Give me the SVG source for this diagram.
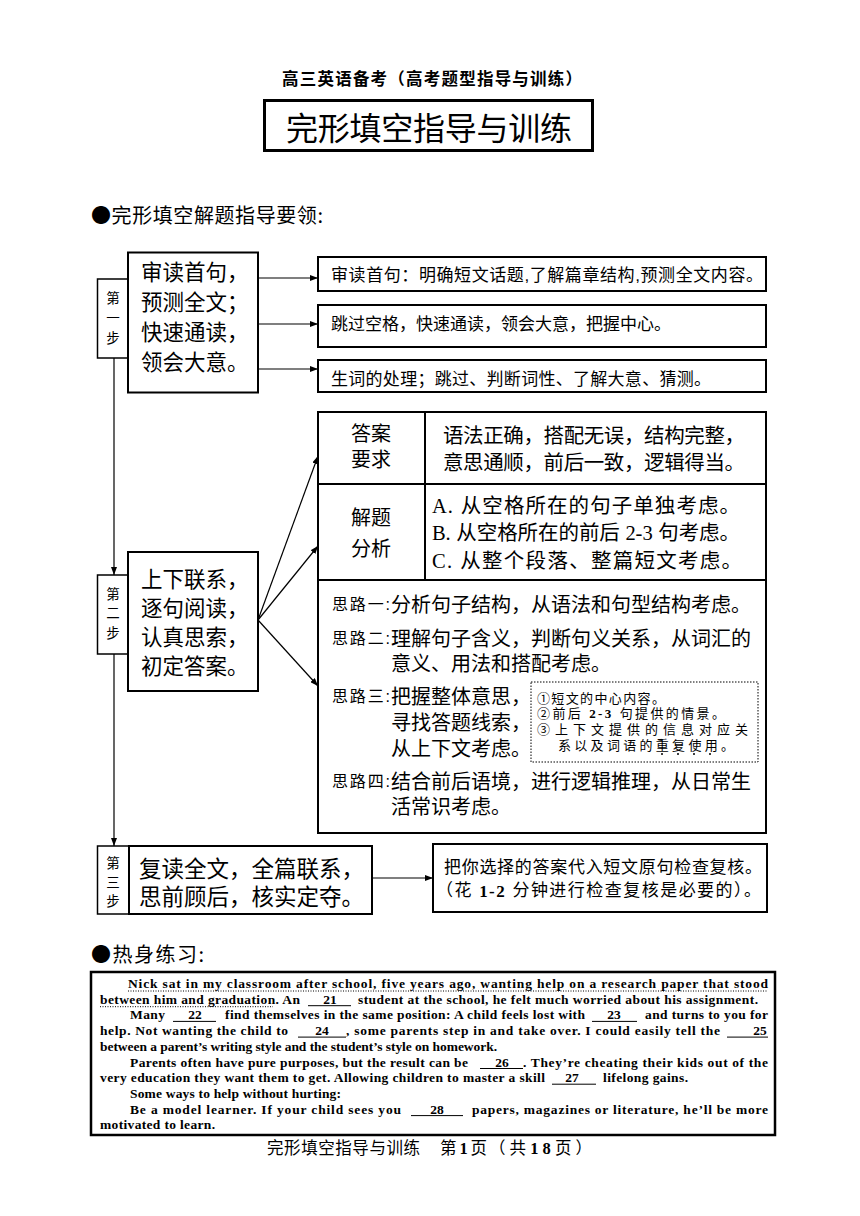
<svg xmlns="http://www.w3.org/2000/svg" width="860" height="1216" viewBox="0 0 860 1216">
<defs>
<marker id="ah" viewBox="0 0 8 6" refX="8" refY="3" markerWidth="8" markerHeight="6" markerUnits="userSpaceOnUse" orient="auto"><path d="M0,0 L8,3 L0,6 z" fill="#000"/></marker>
<style>
text{dominant-baseline:central}
.cj{font-family:"Liberation Sans","Noto Sans CJK SC","Noto Sans CJK JP",sans-serif;fill:#000;transform:translate(0,0.09em)}
.cjn{font-family:"Noto Sans CJK SC","Noto Sans CJK JP",sans-serif;fill:#000}
.lat{font-family:"Liberation Serif",serif;font-weight:bold}
.b2{fill:#fff;stroke:#000;stroke-width:2}
.b15{fill:#fff;stroke:#000;stroke-width:1.5}
.conn line{stroke:#000;stroke-width:1.2;marker-end:url(#ah)}
.step{font-size:21.5px}
.lbl{font-size:13.5px;text-anchor:middle}
.tip{font-size:17px}
.tb{font-size:20.5px}
.hd{font-size:20px;text-anchor:middle}
.sl{font-size:16px}
.st{font-size:20px}
.hint{font-size:13px}
.ps{font-family:"Liberation Serif",serif;font-weight:bold;font-size:13.5px;dominant-baseline:auto;fill:#000}
.num{text-anchor:middle}
.bl{stroke:#000;stroke-width:1}
.dot{stroke:#000;stroke-width:1;stroke-dasharray:1 1.5}
</style>
</defs>
<rect width="860" height="1216" fill="#fff"/>

<g id="header"><text class="cj" x="282" y="78" font-size="16.5" font-weight="bold" textLength="300" lengthAdjust="spacing">高三英语备考（高考题型指导与训练）</text></g>

<g id="title">
<rect x="264.5" y="100.5" width="328" height="50" fill="#fff" stroke="#000" stroke-width="3"/>
<text class="cj" x="286" y="126" font-size="32" textLength="286" lengthAdjust="spacing">完形填空指导与训练</text>
</g>

<g id="section1"><text class="cjn" x="91" y="214" font-size="20" textLength="232" lengthAdjust="spacing">●完形填空解题指导要领:</text></g>

<g id="step1-label">
<rect class="b15" x="97.5" y="279" width="31" height="79"/>
<text class="cj lbl" x="113" y="297">第</text>
<text class="cj lbl" x="113" y="317">一</text>
<text class="cj lbl" x="113" y="337">步</text>
</g>
<g id="step1">
<rect class="b2" x="128" y="252.5" width="130" height="140"/>
<text class="cj step" x="141" y="271">审读首句，</text>
<text class="cj step" x="141" y="301">预测全文；</text>
<text class="cj step" x="141" y="331">快速通读，</text>
<text class="cj step" x="141" y="361">领会大意。</text>
</g>

<g id="tip1">
<rect class="b2" x="318" y="257" width="448" height="34"/>
<text class="cj tip" x="331" y="274" textLength="432" lengthAdjust="spacing">审读首句：明确短文话题,了解篇章结构,预测全文内容。</text>
</g>
<g id="tip2">
<rect class="b2" x="318" y="305" width="448" height="42"/>
<text class="cj tip" x="331" y="323" textLength="340" lengthAdjust="spacing">跳过空格，快速通读，领会大意，把握中心。</text>
</g>
<g id="tip3">
<rect class="b2" x="318" y="360" width="448" height="32"/>
<text class="cj tip" x="331" y="378" textLength="380" lengthAdjust="spacing">生词的处理；跳过、判断词性、了解大意、猜测。</text>
</g>

<g id="analysis-table">
<rect class="b2" x="318" y="412" width="448" height="421"/>
<line x1="318" y1="484" x2="766" y2="484" stroke="#000" stroke-width="2"/>
<line x1="318" y1="580" x2="766" y2="580" stroke="#000" stroke-width="2"/>
<line x1="425" y1="412" x2="425" y2="580" stroke="#000" stroke-width="2"/>
</g>
<g id="answer-req">
<text class="cj hd" x="371" y="432">答案</text>
<text class="cj hd" x="371" y="458">要求</text>
<text class="cj tb" x="443" y="434" textLength="302" lengthAdjust="spacing">语法正确，搭配无误，结构完整，</text>
<text class="cj tb" x="443" y="461" textLength="302" lengthAdjust="spacing">意思通顺，前后一致，逻辑得当。</text>
</g>
<g id="solve-analysis">
<text class="cj hd" x="371" y="516">解题</text>
<text class="cj hd" x="371" y="547">分析</text>
<text class="cj tb" x="432" y="504" textLength="308" lengthAdjust="spacing"><tspan font-family="Liberation Serif">A.</tspan> 从空格所在的句子单独考虑。</text>
<text class="cj tb" x="432" y="531" textLength="308" lengthAdjust="spacing"><tspan font-family="Liberation Serif">B.</tspan> 从空格所在的前后 <tspan font-family="Liberation Serif">2-3</tspan> 句考虑。</text>
<text class="cj tb" x="432" y="559" textLength="310" lengthAdjust="spacing"><tspan font-family="Liberation Serif">C.</tspan> 从整个段落、整篇短文考虑。</text>
</g>
<g id="thinking">
<text class="cj sl" x="332" y="603" textLength="58" lengthAdjust="spacing">思路一:</text>
<text class="cj st" x="391" y="603" textLength="360" lengthAdjust="spacing">分析句子结构，从语法和句型结构考虑。</text>
<text class="cj sl" x="332" y="637" textLength="58" lengthAdjust="spacing">思路二:</text>
<text class="cj st" x="391" y="637" textLength="360" lengthAdjust="spacing">理解句子含义，判断句义关系，从词汇的</text>
<text class="cj st" x="391" y="662" textLength="220" lengthAdjust="spacing">意义、用法和搭配考虑。</text>
<text class="cj sl" x="332" y="695" textLength="58" lengthAdjust="spacing">思路三:</text>
<text class="cj st" x="391" y="695" textLength="140" lengthAdjust="spacing">把握整体意思，</text>
<text class="cj st" x="391" y="721" textLength="140" lengthAdjust="spacing">寻找答题线索，</text>
<text class="cj st" x="391" y="747" textLength="140" lengthAdjust="spacing">从上下文考虑。</text>
<text class="cj sl" x="332" y="780" textLength="58" lengthAdjust="spacing">思路四:</text>
<text class="cj st" x="391" y="780" textLength="360" lengthAdjust="spacing">结合前后语境，进行逻辑推理，从日常生</text>
<text class="cj st" x="391" y="805" textLength="120" lengthAdjust="spacing">活常识考虑。</text>
</g>
<g id="hint">
<rect x="531" y="682" width="227" height="80" fill="none" stroke="#000" stroke-width="1" stroke-dasharray="1.5 1.5"/>
<text class="cj hint" x="537" y="697" textLength="128" lengthAdjust="spacing">①短文的中心内容。</text>
<text class="cj hint" x="537" y="712" textLength="188" lengthAdjust="spacing">②前后 <tspan class="lat">2-3</tspan> 句提供的情景。</text>
<text class="cj hint" x="537" y="728" textLength="211" lengthAdjust="spacing">③上下文提供的信息对应关</text>
<text class="cj hint" x="558" y="744" textLength="176" lengthAdjust="spacing">系以及词语的重复使用。</text>
<circle cx="662" cy="754" r="1" fill="#000"/>
<circle cx="678" cy="754" r="1" fill="#000"/>
<circle cx="694" cy="754" r="1" fill="#000"/>
<circle cx="710" cy="754" r="1" fill="#000"/>
</g>

<g id="step2-label">
<rect class="b15" x="97.5" y="575" width="31" height="79"/>
<text class="cj lbl" x="113" y="593">第</text>
<text class="cj lbl" x="113" y="612">二</text>
<text class="cj lbl" x="113" y="632">步</text>
</g>
<g id="step2">
<rect class="b2" x="128" y="552" width="130" height="139"/>
<text class="cj step" x="141" y="578">上下联系，</text>
<text class="cj step" x="141" y="607">逐句阅读，</text>
<text class="cj step" x="141" y="636">认真思索，</text>
<text class="cj step" x="141" y="665">初定答案。</text>
</g>

<g id="step3-label">
<rect class="b15" x="97.5" y="846" width="31.5" height="68"/>
<text class="cj lbl" x="113" y="862">第</text>
<text class="cj lbl" x="113" y="881">三</text>
<text class="cj lbl" x="113" y="900">步</text>
</g>
<g id="step3">
<rect class="b2" x="129" y="846" width="243" height="68"/>
<text class="cj" x="139" y="867" font-size="22.5">复读全文，全篇联系，</text>
<text class="cj" x="139" y="895" font-size="22.5">思前顾后，核实定夺。</text>
</g>
<g id="step3-check">
<rect class="b2" x="433" y="844" width="334" height="68"/>
<text class="cj" x="444" y="866" font-size="17" textLength="318" lengthAdjust="spacing">把你选择的答案代入短文原句检查复核。</text>
<text class="cj" x="436" y="889" font-size="17" textLength="325" lengthAdjust="spacing">（花 <tspan class="lat">1-2</tspan> 分钟进行检查复核是必要的）。</text>
</g>

<g id="section2"><text class="cjn" x="91" y="953" font-size="20" textLength="113" lengthAdjust="spacing">●热身练习:</text></g>

<g id="passage">
<rect x="91" y="972" width="684" height="163" fill="#fff" stroke="#000" stroke-width="2.5"/>
<line class="dot" x1="128" y1="991" x2="768" y2="991"/>
<text class="ps" x="128" y="988" textLength="640" lengthAdjust="spacing">Nick sat in my classroom after school, five years ago, wanting help on a research paper that stood</text>
<line class="dot" x1="100" y1="1006.7" x2="273" y2="1006.7"/>
<text class="ps" x="100" y="1003.7" textLength="200" lengthAdjust="spacing">between him and graduation. An</text>
<line class="bl" x1="308" y1="1005.7" x2="351" y2="1005.7"/>
<text class="ps num" x="330" y="1003.7">21</text>
<text class="ps" x="358" y="1003.7" textLength="400" lengthAdjust="spacing">student at the school, he felt much worried about his assignment.</text>

<text class="ps" x="130" y="1019.4" textLength="35" lengthAdjust="spacing">Many</text>
<line class="bl" x1="173" y1="1021.4" x2="216" y2="1021.4"/>
<text class="ps num" x="195" y="1019.4">22</text>
<text class="ps" x="225" y="1019.4" textLength="360" lengthAdjust="spacing">find themselves in the same position: A child feels lost with</text>
<line class="bl" x1="592" y1="1021.4" x2="637" y2="1021.4"/>
<text class="ps num" x="614" y="1019.4">23</text>
<text class="ps" x="645" y="1019.4" textLength="123" lengthAdjust="spacing">and turns to you for</text>

<text class="ps" x="100" y="1035.1" textLength="188" lengthAdjust="spacing">help. Not wanting the child to</text>
<line class="bl" x1="298" y1="1037.1" x2="346" y2="1037.1"/>
<text class="ps num" x="322" y="1035.1">24</text>
<text class="ps" x="346" y="1035.1" textLength="374" lengthAdjust="spacing">, some parents step in and take over. I could easily tell the</text>
<line class="bl" x1="727" y1="1037.1" x2="768" y2="1037.1"/>
<text class="ps num" x="760" y="1035.1">25</text>

<text class="ps" x="100" y="1050.8" textLength="397" lengthAdjust="spacing">between a parent’s writing style and the student’s style on homework.</text>

<text class="ps" x="130" y="1066.5" textLength="338" lengthAdjust="spacing">Parents often have pure purposes, but the result can be</text>
<line class="bl" x1="480" y1="1068.5" x2="523" y2="1068.5"/>
<text class="ps num" x="502" y="1066.5">26</text>
<text class="ps" x="523" y="1066.5" textLength="245" lengthAdjust="spacing">. They’re cheating their kids out of the</text>

<text class="ps" x="100" y="1082.2" textLength="445" lengthAdjust="spacing">very education they want them to get. Allowing children to master a skill</text>
<line class="bl" x1="552" y1="1084.2" x2="596" y2="1084.2"/>
<text class="ps num" x="572" y="1082.2">27</text>
<text class="ps" x="603" y="1082.2" textLength="85" lengthAdjust="spacing">lifelong gains.</text>

<text class="ps" x="130" y="1097.9" textLength="211" lengthAdjust="spacing">Some ways to help without hurting:</text>

<text class="ps" x="130" y="1113.6" textLength="271" lengthAdjust="spacing">Be a model learner. If your child sees you</text>
<line class="bl" x1="411" y1="1115.6" x2="463" y2="1115.6"/>
<text class="ps num" x="437" y="1113.6">28</text>
<text class="ps" x="472" y="1113.6" textLength="296" lengthAdjust="spacing">papers, magazines or literature, he’ll be more</text>

<text class="ps" x="100" y="1129.3" textLength="115" lengthAdjust="spacing">motivated to learn.</text>
</g>

<g id="footer">
<text class="cj" x="267" y="1147" font-size="16.5" textLength="153" lengthAdjust="spacing">完形填空指导与训练</text>
<text class="cj" x="440" y="1147" font-size="16.5" textLength="47" lengthAdjust="spacing">第<tspan class="lat">1</tspan>页</text>
<text class="cj" x="489" y="1147" font-size="16.5" textLength="103" lengthAdjust="spacing">（共<tspan class="lat">18</tspan>页）</text>
</g>

<g id="connectors" class="conn">
<line x1="258" y1="278" x2="318" y2="278"/>
<line x1="258" y1="324" x2="318" y2="324"/>
<line x1="258" y1="369" x2="318" y2="369"/>
<line x1="114" y1="358" x2="114" y2="575"/>
<line x1="258" y1="620" x2="318" y2="456"/>
<line x1="258" y1="620" x2="318" y2="546"/>
<line x1="258" y1="620" x2="318" y2="686"/>
<line x1="114" y1="654" x2="114" y2="846"/>
<line x1="372" y1="878" x2="433" y2="878"/>
</g>
</svg>
